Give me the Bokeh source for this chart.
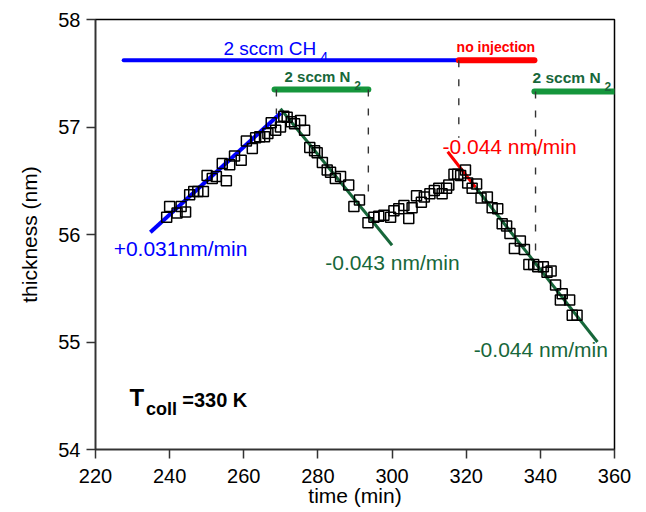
from bokeh.plotting import figure
from bokeh.models import Range1d, Label, FixedTicker, ColumnDataSource
from bokeh.embed import file_html
from bokeh.resources import INLINE

# ---- data ----
time_min = [239.2, 240.0, 242.0, 243.1, 244.3, 245.4, 246.5, 247.6, 249.1, 250.1,
            251.5, 252.6, 255.3, 254.2, 256.2, 257.5, 259.3, 260.7, 262.3, 263.2,
            264.3, 265.6, 266.5, 267.4, 268.6, 269.9, 270.8, 271.7, 272.8, 273.7,
            275.3, 276.4, 277.8, 279.1, 279.8, 281.2, 282.5, 283.4, 284.7, 286.1,
            288.3, 289.7, 291.2,
            293.5, 295.1, 296.4, 297.8, 299.6, 300.5, 301.8, 303.2, 304.5, 305.4,
            306.6, 307.9, 308.7, 310.2, 311.4, 312.6, 313.5, 314.7, 315.3, 316.7,
            317.7, 318.5, 319.8, 320.4, 321.6, 322.8, 324.0, 325.7, 327.0, 328.5,
            329.7, 330.9, 331.8, 333.0, 334.6, 335.7, 336.9, 338.2, 339.3, 340.8,
            341.8, 342.9, 344.1, 345.4, 345.9, 347.9, 348.6, 349.9]
thickness_nm = [56.16, 56.26, 56.20, 56.26, 56.21, 56.37, 56.40, 56.40, 56.40, 56.55,
                56.52, 56.54, 56.50, 56.66, 56.65, 56.73, 56.69, 56.87, 56.80, 56.90,
                56.91, 56.91, 56.94, 57.04, 56.97, 57.00, 57.10, 57.09, 57.05, 57.03,
                57.06, 56.97, 56.81, 56.78, 56.76, 56.67, 56.60, 56.58, 56.52, 56.54,
                56.46, 56.26, 56.32,
                56.11, 56.16, 56.17, 56.18, 56.16, 56.22, 56.24, 56.27, 56.15, 56.25,
                56.36, 56.30, 56.35, 56.38, 56.41, 56.43, 56.38, 56.43, 56.46, 56.56,
                56.56, 56.55, 56.60, 56.48, 56.43, 56.47, 56.34, 56.35, 56.25, 56.24,
                56.10, 56.08, 56.01, 55.87, 55.94, 55.86, 55.72, 55.72, 55.70, 55.70,
                55.65, 55.66, 55.53, 55.39, 55.45, 55.39, 55.25, 55.25]

# linear fits (start/end)
fit_x0 = [234.8, 269.9, 315.0, 322.5]
fit_x1 = [270.0, 300.0, 322.5, 355.4]
fit_y0 = [56.02, 57.17, 56.77, 56.44]
fit_y1 = [57.13, 55.90, 56.44, 55.00]
fit_colors = ["#0000ff", "#17673a", "#ff0000", "#17673a"]
fit_widths = [4, 3, 3, 3]

# injection periods
bar_start = [227.6, 318.0, 268.3, 338.4]
bar_end = [318.0, 338.4, 293.6, 360.0]
bar_y = [57.62, 57.62, 57.35, 57.33]
bar_colors = ["#0000ff", "#ff0000", "#15963c", "#15963c"]
bar_widths = [4, 6, 6, 6]

# dashed markers
dash_x = [268.8, 293.6, 318.0, 338.7]
dash_top = [57.35, 57.35, 57.62, 57.33]
dash_bottom = [57.12, 56.32, 56.90, 55.82]

x_ticks = [220, 240, 260, 280, 300, 320, 340, 360]
y_ticks = [54, 55, 56, 57, 58]

FONT = "Liberation Sans"

p = figure(output_backend="svg", toolbar_location=None,
           frame_width=519, frame_height=430,
           min_border_left=95, min_border_right=20, min_border_top=19, min_border_bottom=52,
           x_range=Range1d(220, 360), y_range=Range1d(54, 58))
p.background_fill_color = "white"
p.border_fill_color = "white"
p.grid.visible = False
p.outline_line_color = "black"
p.outline_line_width = 1.5

for ax, ticks in ((p.xaxis, x_ticks), (p.yaxis, y_ticks)):
    ax.ticker = FixedTicker(ticks=ticks)
    ax.minor_tick_line_color = None
    ax.major_tick_in = 0
    ax.major_tick_out = 9
    ax.major_tick_line_color = "#333333"
    ax.major_tick_line_width = 1.5
    ax.axis_line_color = "#333333"
    ax.axis_line_width = 1.5
    ax.major_label_text_font = FONT
    ax.major_label_text_font_size = "20px"
    ax.major_label_text_color = "black"
    ax.axis_label_text_font = FONT
    ax.axis_label_text_font_size = "21px"
    ax.axis_label_text_font_style = "normal"
    ax.axis_label_text_color = "black"
p.xaxis.axis_label = "time (min)"
p.yaxis.axis_label = "thickness (nm)"
p.xaxis.major_label_standoff = 10
p.yaxis.major_label_standoff = 6
p.xaxis.axis_label_standoff = -2
p.yaxis.axis_label_standoff = 14

# injection bars
p.segment(x0=bar_start, x1=bar_end, y0=bar_y, y1=bar_y, line_color=bar_colors,
          line_width=bar_widths, line_cap="round")
# dashed lines
p.segment(x0=dash_x, x1=dash_x, y0=dash_top, y1=dash_bottom, line_color="#333333",
          line_width=1.4, line_dash="7 12")
# fit lines
p.segment(x0=fit_x0, x1=fit_x1, y0=fit_y0, y1=fit_y1, line_color=fit_colors,
          line_width=fit_widths)
# data
src = ColumnDataSource(dict(t=time_min, d=thickness_nm))
p.scatter("t", "d", source=src, marker="square", size=10, fill_color=None,
          line_color="black", line_width=1.5)


def lab(x, y, text, size, color, bold=False, baseline="alphabetic"):
    p.add_layout(Label(x=x, y=y, text=text, text_font=FONT, text_font_size=size,
                       text_color=color, text_font_style="bold" if bold else "normal",
                       text_align="left", text_baseline=baseline))

GREEN_T = "#17673a"
lab(254.5, 57.73, "2 sccm CH", "19px", "#0000ff")
lab(280.6, 57.65, "4", "14px", "#0000ff")
lab(317.4, 57.74, "no injection", "14px", "#ff0000", bold=True)
lab(271.0, 57.47, "2 sccm N", "15px", GREEN_T, bold=True)
lab(289.8, 57.39, "2", "12px", GREEN_T, bold=True)
lab(337.9, 57.46, "2 sccm N", "15.5px", GREEN_T, bold=True)
lab(357.3, 57.38, "2", "12px", GREEN_T, bold=True)

lab(224.9, 55.87, "+0.031nm/min", "21px", "#0000ff", baseline="middle")
lab(282.0, 55.74, "-0.043 nm/min", "21px", GREEN_T, baseline="middle")
lab(313.6, 56.82, "-0.044 nm/min", "21px", "#ff0000", baseline="middle")
lab(322.0, 54.93, "-0.044 nm/min", "21px", GREEN_T, baseline="middle")

lab(229.2, 54.48, "T", "24px", "black", bold=True)
lab(233.6, 54.38, "coll", "18px", "black", bold=True)
lab(243.4, 54.46, "=330 K", "20px", "black", bold=True)

open("out.html", "w").write(file_html(p, INLINE))
